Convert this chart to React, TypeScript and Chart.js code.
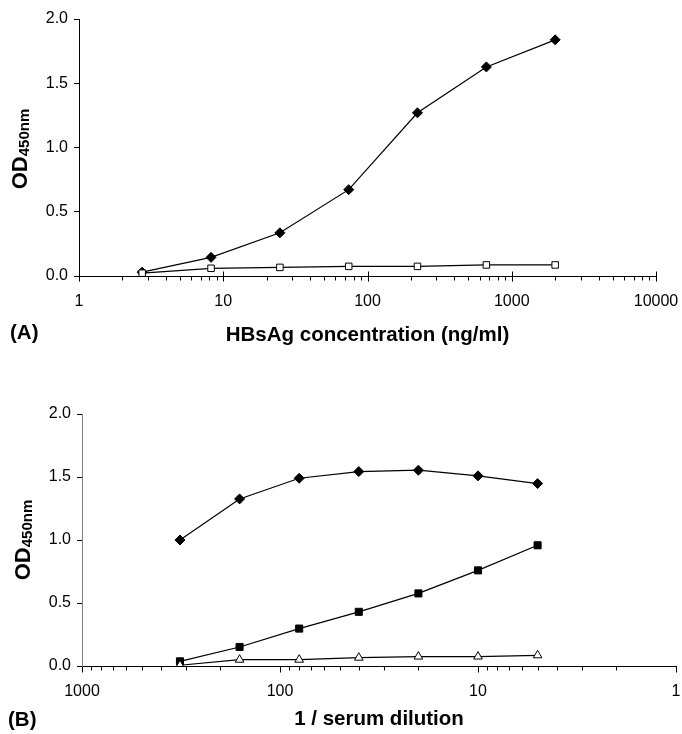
import React, { useEffect, useRef } from "react";
import { Chart, registerables } from "chart.js";

Chart.register(...registerables);

// ---------- data ----------
const concA = [2.74, 8.23, 24.7, 74.1, 222, 667, 2000];
const odADiamond = [0.03, 0.145, 0.336, 0.672, 1.27, 1.627, 1.838];
const odASquare = [0.022, 0.06, 0.067, 0.075, 0.075, 0.086, 0.086];

const dilB = [320, 160, 80, 40, 20, 10, 5];
const odBDiamond = [1.0, 1.326, 1.49, 1.543, 1.554, 1.509, 1.448];
const odBSquare = [0.037, 0.151, 0.297, 0.43, 0.576, 0.759, 0.958];
const odBTriangle = [0.006, 0.05, 0.05, 0.066, 0.075, 0.075, 0.085];

const yTickValues = [0, 0.5, 1.0, 1.5, 2.0];
const decadesA = [1, 10, 100, 1000, 10000];
const decadesB = [1, 10, 100, 1000];
const yTitleMain = "OD";
const yTitleSub = "450nm";
const titleA = "HBsAg concentration (ng/ml)";
const titleB = "1 / serum dilution";
const labelA = "(A)";
const labelB = "(B)";

const FONT = "'Liberation Sans', Arial, Helvetica, sans-serif";

function logTicks(decades: number[]) {
  const out: number[] = [];
  const sorted = [...decades].sort((a, b) => a - b);
  for (let i = 0; i < sorted.length; i++) {
    const d = sorted[i];
    out.push(d);
    if (i < sorted.length - 1) {
      for (let m = 2; m <= 9; m++) out.push(d * m);
    }
  }
  return out;
}

function isPow10(v: number) {
  const l = Math.log10(v);
  return Math.abs(l - Math.round(l)) < 1e-9;
}

function pts(xs: number[], ys: number[]) {
  return xs.map((x, i) => ({ x, y: ys[i] }));
}

type Spec = {
  height: number;
  top: number;
  areaTop: number;
  areaBottom: number;
  areaLeft: number;
  areaRight: number;
  xMin: number;
  xMax: number;
  reverse: boolean;
  decades: number[];
  datasets: any[];
  yBorderColor: string;
  majorUp: number;
  majorDown: number;
  minorDown: number;
  title: string;
  titleY: number;
  label: string;
  labelX: number;
  labelY: number;
  yTitleX: number;
  yTitleY: number;
};

function decorPlugin(s: Spec) {
  return {
    id: "decor",
    afterDraw(chart: any) {
      const ctx = chart.ctx as CanvasRenderingContext2D;
      const xs = chart.scales.x;
      const area = chart.chartArea;
      ctx.save();
      ctx.strokeStyle = "#000";
      ctx.lineWidth = 1;
      const yAxis = Math.round(area.bottom) + 0.5;
      for (const t of xs.ticks) {
        const px = Math.round(xs.getPixelForValue(t.value)) + 0.5;
        const major = isPow10(t.value);
        ctx.beginPath();
        if (major) {
          ctx.moveTo(px, yAxis - s.majorUp);
          ctx.lineTo(px, yAxis + s.majorDown);
        } else {
          ctx.moveTo(px, yAxis);
          ctx.lineTo(px, yAxis + s.minorDown);
        }
        ctx.stroke();
      }
      ctx.fillStyle = "#000";
      ctx.textBaseline = "middle";
      // x title
      ctx.font = `bold 20.5px ${FONT}`;
      ctx.textAlign = "center";
      ctx.fillText(s.title, (area.left + area.right) / 2, s.titleY);
      // panel label
      ctx.textAlign = "left";
      ctx.fillText(s.label, s.labelX, s.labelY);
      // y title rotated
      ctx.translate(s.yTitleX, s.yTitleY);
      ctx.rotate(-Math.PI / 2);
      ctx.textBaseline = "alphabetic";
      const mainFont = `bold 22px ${FONT}`;
      const subFont = `bold 15px ${FONT}`;
      ctx.font = mainFont;
      const w1 = ctx.measureText(yTitleMain).width;
      ctx.font = subFont;
      const w2 = ctx.measureText(yTitleSub).width;
      const total = w1 + w2;
      ctx.font = mainFont;
      ctx.fillText(yTitleMain, -total / 2, 0);
      ctx.font = subFont;
      ctx.fillText(yTitleSub, -total / 2 + w1, 2);
      ctx.restore();
    },
  };
}

function makeConfig(s: Spec): any {
  const tickVals = logTicks(s.decades);
  return {
    type: "line",
    data: { datasets: s.datasets },
    plugins: [decorPlugin(s)],
    options: {
      responsive: false,
      animation: false,
      devicePixelRatio: 1,
      layout: {
        padding: {
          left: 0,
          top: s.areaTop,
          right: 682 - s.areaRight,
          bottom: 0,
        },
      },
      plugins: {
        legend: { display: false },
        tooltip: { enabled: false },
      },
      scales: {
        x: {
          type: "logarithmic",
          min: s.xMin,
          max: s.xMax,
          reverse: s.reverse,
          afterBuildTicks: (scale: any) => {
            scale.ticks = tickVals.map((v) => ({ value: v, major: isPow10(v) }));
          },
          afterFit: (scale: any) => {
            scale.height = s.height - s.areaBottom;
            scale.paddingLeft = 0;
            scale.paddingRight = 0;
          },
          grid: { display: false, drawTicks: false, tickLength: 0 },
          border: { display: true, color: "#000", width: 1 },
          ticks: {
            autoSkip: false,
            maxRotation: 0,
            minRotation: 0,
            padding: 16,
            color: "#000",
            font: { family: FONT, size: 16 },
            callback: (v: any) => (isPow10(Number(v)) ? String(Number(v)) : ""),
          },
        },
        y: {
          type: "linear",
          min: 0,
          max: 2,
          afterBuildTicks: (scale: any) => {
            scale.ticks = yTickValues.map((v) => ({ value: v }));
          },
          afterFit: (scale: any) => {
            scale.width = s.areaLeft;
          },
          grid: {
            display: true,
            drawOnChartArea: false,
            drawTicks: true,
            tickLength: 5,
            color: "#000",
          },
          border: { display: true, color: s.yBorderColor, width: 1 },
          ticks: {
            padding: 6,
            color: "#000",
            font: { family: FONT, size: 16 },
            callback: (v: any) => Number(v).toFixed(1),
          },
        },
      },
    },
  };
}

const lineBase = {
  borderColor: "#000",
  borderWidth: 1.2,
  tension: 0,
  fill: false,
  pointBorderColor: "#000",
  pointBorderWidth: 1,
  pointHoverRadius: 0,
};

const specA: Spec = {
  height: 360,
  top: 0,
  areaTop: 19,
  areaBottom: 276,
  areaLeft: 79,
  areaRight: 656,
  xMin: 1,
  xMax: 10000,
  reverse: false,
  decades: decadesA,
  yBorderColor: "#000",
  majorUp: 5,
  majorDown: 5,
  minorDown: 4,
  title: titleA,
  titleY: 335,
  label: labelA,
  labelX: 10,
  labelY: 333,
  yTitleX: 27,
  yTitleY: 149,
  datasets: [
    {
      ...lineBase,
      data: pts(concA, odADiamond),
      pointStyle: "rectRot",
      pointRadius: 5,
      pointBackgroundColor: "#000",
      order: 2,
    },
    {
      ...lineBase,
      data: pts(concA, odASquare),
      pointStyle: "rect",
      pointRadius: 4.6,
      pointBackgroundColor: "#fff",
      order: 1,
    },
  ],
};

const specB: Spec = {
  height: 374,
  top: 360,
  areaTop: 54,
  areaBottom: 306,
  areaLeft: 82,
  areaRight: 679,
  xMin: 1,
  xMax: 1000,
  reverse: true,
  decades: decadesB,
  yBorderColor: "#7f7f7f",
  majorUp: 0,
  majorDown: 6,
  minorDown: 4,
  title: titleB,
  titleY: 359,
  label: labelB,
  labelX: 8,
  labelY: 360,
  yTitleX: 30,
  yTitleY: 180,
  datasets: [
    {
      ...lineBase,
      data: pts(dilB, odBDiamond),
      pointStyle: "rectRot",
      pointRadius: 5,
      pointBackgroundColor: "#000",
      order: 3,
    },
    {
      ...lineBase,
      data: pts(dilB, odBSquare),
      pointStyle: "rect",
      pointRadius: 5,
      pointBackgroundColor: "#000",
      order: 2,
    },
    {
      ...lineBase,
      data: pts(dilB, odBTriangle),
      pointStyle: "triangle",
      pointRadius: 5,
      pointBackgroundColor: "#fff",
      order: 1,
    },
  ],
};

function Panel({ spec }: { spec: Spec }) {
  const ref = useRef<HTMLCanvasElement>(null);
  useEffect(() => {
    const chart = new Chart(ref.current as HTMLCanvasElement, makeConfig(spec));
    return () => chart.destroy();
  }, []);
  return (
    <canvas
      ref={ref}
      width={682}
      height={spec.height}
      style={{
        position: "absolute",
        left: 0,
        top: spec.top,
        width: 682,
        height: spec.height,
        display: "block",
      }}
    />
  );
}

export default function App() {
  return (
    <div
      style={{
        position: "absolute",
        left: 0,
        top: 0,
        width: 682,
        height: 734,
        background: "#fff",
        overflow: "hidden",
      }}
    >
      <Panel spec={specA} />
      <Panel spec={specB} />
    </div>
  );
}
